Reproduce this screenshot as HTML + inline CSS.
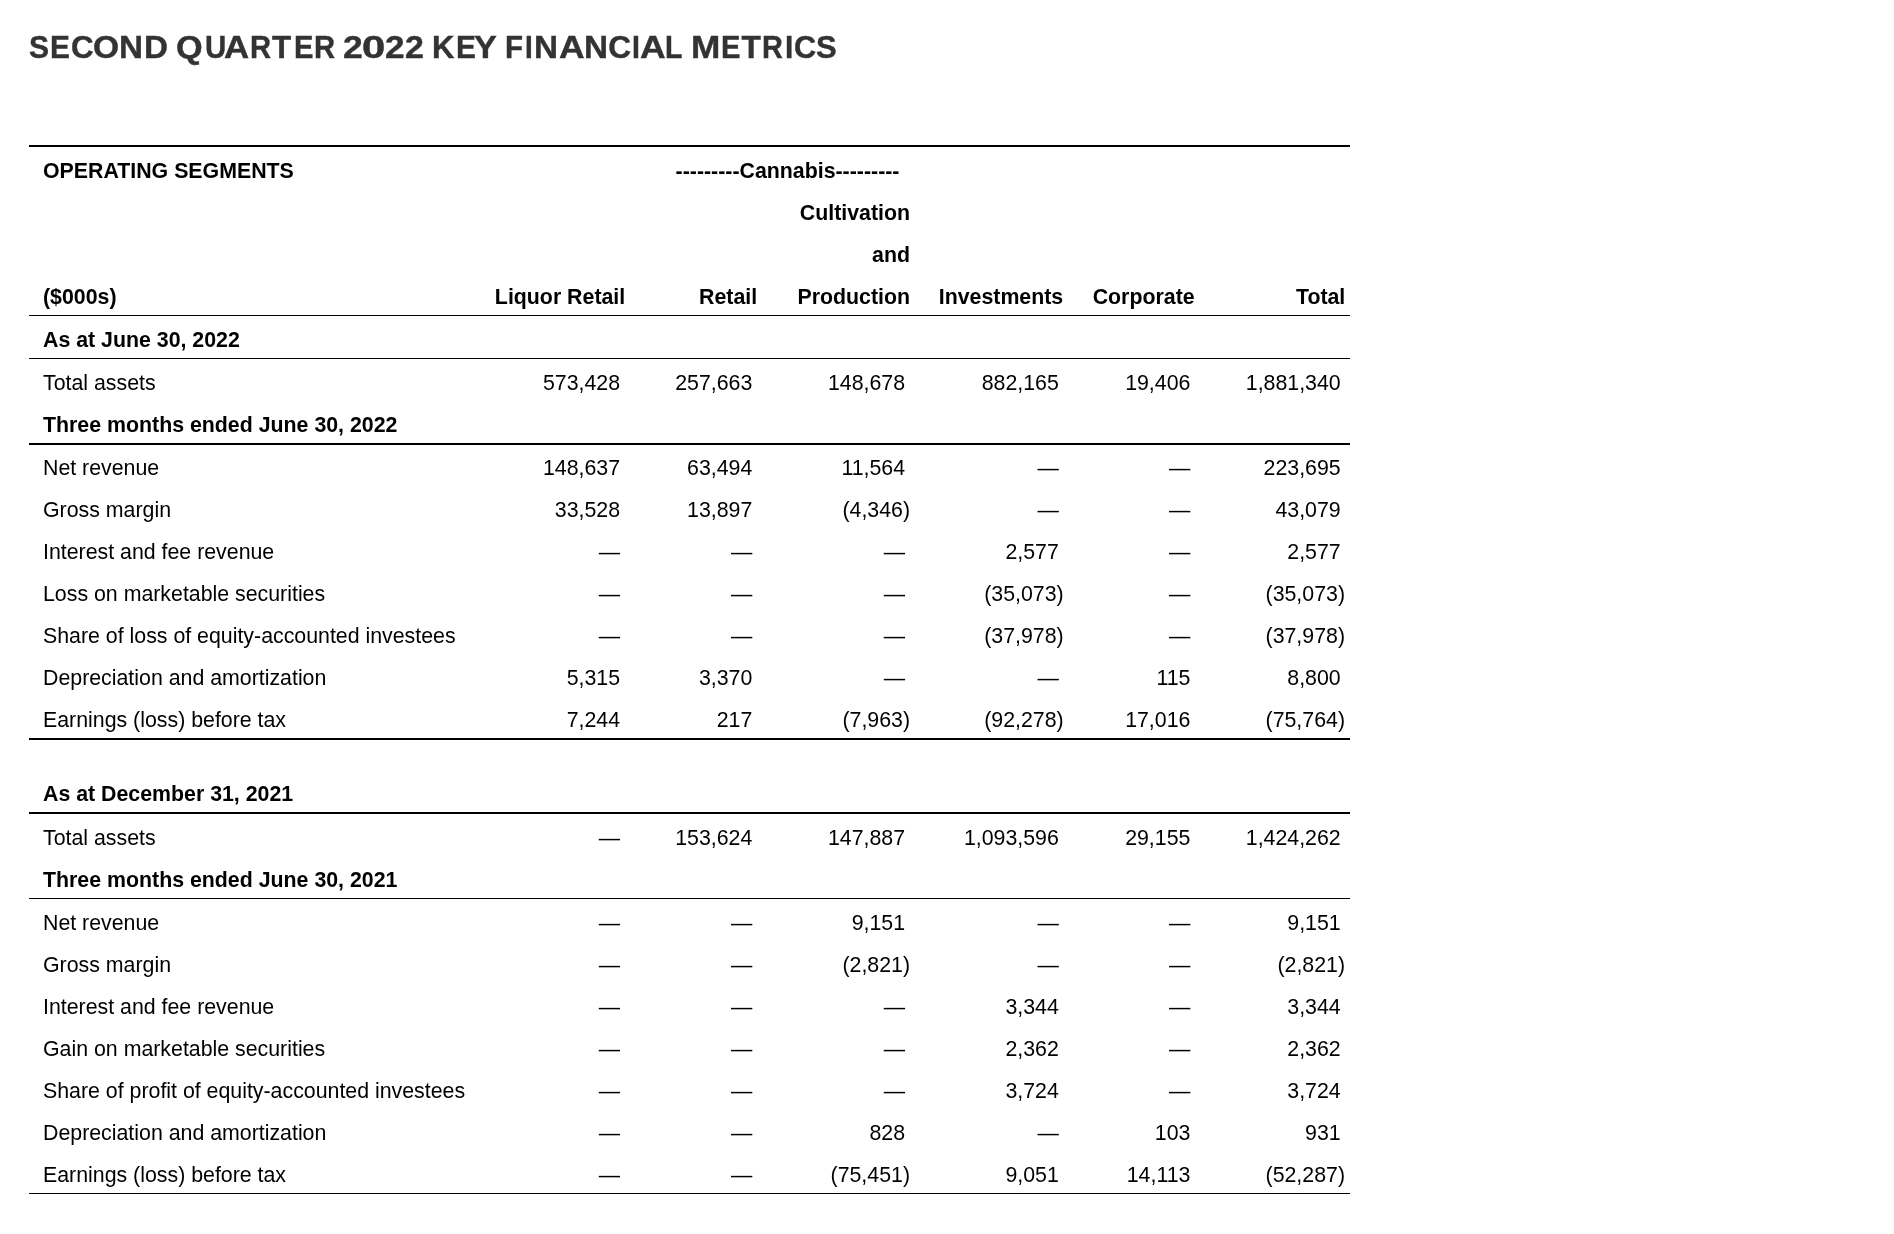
<!DOCTYPE html>
<html lang="en">
<head>
<meta charset="utf-8">
<title>Second Quarter 2022 Key Financial Metrics</title>
<style>
html,body{margin:0;padding:0;background:#fff;}
body{width:1894px;height:1234px;position:relative;overflow:hidden;font-family:"Liberation Sans",sans-serif;color:#000;}
#page{position:absolute;left:0;top:0;width:1894px;height:1234px;will-change:transform;}
h1{position:absolute;left:0;top:26.6px;margin:0;width:1000px;height:40px;font-size:31.7px;line-height:40px;font-weight:bold;color:#333;white-space:nowrap;-webkit-text-stroke:0.4px #333;}
h1 span{position:absolute;top:0;transform-origin:0 0;}
.ln{position:absolute;left:29px;width:1321px;background:#000;}
.r{position:absolute;left:0;width:1894px;height:42px;line-height:42px;font-size:21.333px;white-space:nowrap;}
.b{font-weight:bold;}
.r span{position:absolute;top:0;}
.l{left:43.0px;}
.c1{right:1268px;}
.h1{right:1268.8px;}
.p1{right:1269px;}
.c2{right:1135.8px;}
.h2{right:1136.8px;}
.p2{right:1136.8px;}
.c3{right:983px;}
.h3{right:984px;}
.p3{right:984px;}
.c4{right:829.3px;}
.h4{right:830.8px;}
.p4{right:830.3px;}
.c5{right:697.7px;}
.h5{right:699.4px;}
.p5{right:698.7px;}
.c6{right:547.4px;}
.h6{right:548.7px;}
.p6{right:549px;}
</style>
</head>
<body>
<div id="page">
<h1><span style="left:29.29px;transform:scaleX(0.95)">S</span><span style="left:50.32px;transform:scaleX(0.94)">E</span><span style="left:70.61px;transform:scaleX(0.99)">C</span><span style="left:92.64px;transform:scaleX(1.06)">O</span><span style="left:118.79px;transform:scaleX(1.05)">N</span><span style="left:144.3px;transform:scaleX(1.05)">D</span> <span style="left:175.62px;transform:scaleX(1.08)">Q</span><span style="left:204.67px;transform:scaleX(0.93)">U</span><span style="left:224.25px;transform:scaleX(1.1)">A</span><span style="left:250.26px;transform:scaleX(0.92)">R</span><span style="left:272.45px;transform:scaleX(0.99)">T</span><span style="left:293.56px;transform:scaleX(0.92)">E</span><span style="left:314.07px;transform:scaleX(0.92)">R</span> <span style="left:343.38px;transform:scaleX(1.12)">2</span><span style="left:362.28px;transform:scaleX(1.32)">0</span><span style="left:385.19px;transform:scaleX(1.11)">2</span><span style="left:404.63px;transform:scaleX(1.07)">2</span> <span style="left:431.65px;transform:scaleX(0.98)">K</span><span style="left:455.52px;transform:scaleX(0.94)">E</span><span style="left:474.43px;transform:scaleX(1.08)">Y</span> <span style="left:505.45px;transform:scaleX(0.93)">F</span><span style="left:524.74px;transform:scaleX(0.88)">I</span><span style="left:534.29px;transform:scaleX(1.05)">N</span><span style="left:558.64px;transform:scaleX(1.12)">A</span><span style="left:584.21px;transform:scaleX(1.05)">N</span><span style="left:608.3px;transform:scaleX(1)">C</span><span style="left:632px;transform:scaleX(0.9)">I</span><span style="left:640.44px;transform:scaleX(1.12)">A</span><span style="left:665.29px;transform:scaleX(0.9)">L</span> <span style="left:690.69px;transform:scaleX(1.11)">M</span><span style="left:721.26px;transform:scaleX(0.92)">E</span><span style="left:741.55px;transform:scaleX(1)">T</span><span style="left:762.19px;transform:scaleX(0.91)">R</span><span style="left:785.42px;transform:scaleX(0.94)">I</span><span style="left:794.23px;transform:scaleX(0.97)">C</span><span style="left:816.46px;transform:scaleX(0.98)">S</span></h1>
<div class="ln" style="top:145px;height:2px"></div>
<div class="ln" style="top:315px;height:1px"></div>
<div class="ln" style="top:358px;height:1px"></div>
<div class="ln" style="top:443px;height:2px"></div>
<div class="ln" style="top:738px;height:2px"></div>
<div class="ln" style="top:812px;height:2px"></div>
<div class="ln" style="top:898px;height:1px"></div>
<div class="ln" style="top:1193px;height:1px"></div>
<div class="r b" style="top:150px"><span class="l">OPERATING SEGMENTS</span><span style="left:675.6px">---------Cannabis---------</span></div>
<div class="r b" style="top:192px"><span class="h3">Cultivation</span></div>
<div class="r b" style="top:234px"><span class="h3">and</span></div>
<div class="r b" style="top:276px"><span class="l">($000s)</span><span class="h1">Liquor Retail</span><span class="h2">Retail</span><span class="h3">Production</span><span class="h4">Investments</span><span class="h5">Corporate</span><span class="h6">Total</span></div>
<div class="r b" style="top:319px"><span class="l">As at June 30, 2022</span></div>
<div class="r" style="top:362px"><span class="l">Total assets</span><span class="c1">573,428&nbsp;</span><span class="c2">257,663&nbsp;</span><span class="c3">148,678&nbsp;</span><span class="c4">882,165&nbsp;</span><span class="c5">19,406&nbsp;</span><span class="c6">1,881,340&nbsp;</span></div>
<div class="r b" style="top:404px"><span class="l">Three months ended June 30, 2022</span></div>
<div class="r" style="top:447px"><span class="l">Net revenue</span><span class="c1">148,637&nbsp;</span><span class="c2">63,494&nbsp;</span><span class="c3">11,564&nbsp;</span><span class="c4">—&nbsp;</span><span class="c5">—&nbsp;</span><span class="c6">223,695&nbsp;</span></div>
<div class="r" style="top:489px"><span class="l">Gross margin</span><span class="c1">33,528&nbsp;</span><span class="c2">13,897&nbsp;</span><span class="p3">(4,346)</span><span class="c4">—&nbsp;</span><span class="c5">—&nbsp;</span><span class="c6">43,079&nbsp;</span></div>
<div class="r" style="top:531px"><span class="l">Interest and fee revenue</span><span class="c1">—&nbsp;</span><span class="c2">—&nbsp;</span><span class="c3">—&nbsp;</span><span class="c4">2,577&nbsp;</span><span class="c5">—&nbsp;</span><span class="c6">2,577&nbsp;</span></div>
<div class="r" style="top:573px"><span class="l">Loss on marketable securities</span><span class="c1">—&nbsp;</span><span class="c2">—&nbsp;</span><span class="c3">—&nbsp;</span><span class="p4">(35,073)</span><span class="c5">—&nbsp;</span><span class="p6">(35,073)</span></div>
<div class="r" style="top:615px"><span class="l">Share of loss of equity-accounted investees</span><span class="c1">—&nbsp;</span><span class="c2">—&nbsp;</span><span class="c3">—&nbsp;</span><span class="p4">(37,978)</span><span class="c5">—&nbsp;</span><span class="p6">(37,978)</span></div>
<div class="r" style="top:657px"><span class="l">Depreciation and amortization</span><span class="c1">5,315&nbsp;</span><span class="c2">3,370&nbsp;</span><span class="c3">—&nbsp;</span><span class="c4">—&nbsp;</span><span class="c5">115&nbsp;</span><span class="c6">8,800&nbsp;</span></div>
<div class="r" style="top:699px"><span class="l">Earnings (loss) before tax</span><span class="c1">7,244&nbsp;</span><span class="c2">217&nbsp;</span><span class="p3">(7,963)</span><span class="p4">(92,278)</span><span class="c5">17,016&nbsp;</span><span class="p6">(75,764)</span></div>
<div class="r b" style="top:773px"><span class="l">As at December 31, 2021</span></div>
<div class="r" style="top:817px"><span class="l">Total assets</span><span class="c1">—&nbsp;</span><span class="c2">153,624&nbsp;</span><span class="c3">147,887&nbsp;</span><span class="c4">1,093,596&nbsp;</span><span class="c5">29,155&nbsp;</span><span class="c6">1,424,262&nbsp;</span></div>
<div class="r b" style="top:859px"><span class="l">Three months ended June 30, 2021</span></div>
<div class="r" style="top:902px"><span class="l">Net revenue</span><span class="c1">—&nbsp;</span><span class="c2">—&nbsp;</span><span class="c3">9,151&nbsp;</span><span class="c4">—&nbsp;</span><span class="c5">—&nbsp;</span><span class="c6">9,151&nbsp;</span></div>
<div class="r" style="top:944px"><span class="l">Gross margin</span><span class="c1">—&nbsp;</span><span class="c2">—&nbsp;</span><span class="p3">(2,821)</span><span class="c4">—&nbsp;</span><span class="c5">—&nbsp;</span><span class="p6">(2,821)</span></div>
<div class="r" style="top:986px"><span class="l">Interest and fee revenue</span><span class="c1">—&nbsp;</span><span class="c2">—&nbsp;</span><span class="c3">—&nbsp;</span><span class="c4">3,344&nbsp;</span><span class="c5">—&nbsp;</span><span class="c6">3,344&nbsp;</span></div>
<div class="r" style="top:1028px"><span class="l">Gain on marketable securities</span><span class="c1">—&nbsp;</span><span class="c2">—&nbsp;</span><span class="c3">—&nbsp;</span><span class="c4">2,362&nbsp;</span><span class="c5">—&nbsp;</span><span class="c6">2,362&nbsp;</span></div>
<div class="r" style="top:1070px"><span class="l">Share of profit of equity-accounted investees</span><span class="c1">—&nbsp;</span><span class="c2">—&nbsp;</span><span class="c3">—&nbsp;</span><span class="c4">3,724&nbsp;</span><span class="c5">—&nbsp;</span><span class="c6">3,724&nbsp;</span></div>
<div class="r" style="top:1112px"><span class="l">Depreciation and amortization</span><span class="c1">—&nbsp;</span><span class="c2">—&nbsp;</span><span class="c3">828&nbsp;</span><span class="c4">—&nbsp;</span><span class="c5">103&nbsp;</span><span class="c6">931&nbsp;</span></div>
<div class="r" style="top:1154px"><span class="l">Earnings (loss) before tax</span><span class="c1">—&nbsp;</span><span class="c2">—&nbsp;</span><span class="p3">(75,451)</span><span class="c4">9,051&nbsp;</span><span class="c5">14,113&nbsp;</span><span class="p6">(52,287)</span></div>
</div>
</body>
</html>
